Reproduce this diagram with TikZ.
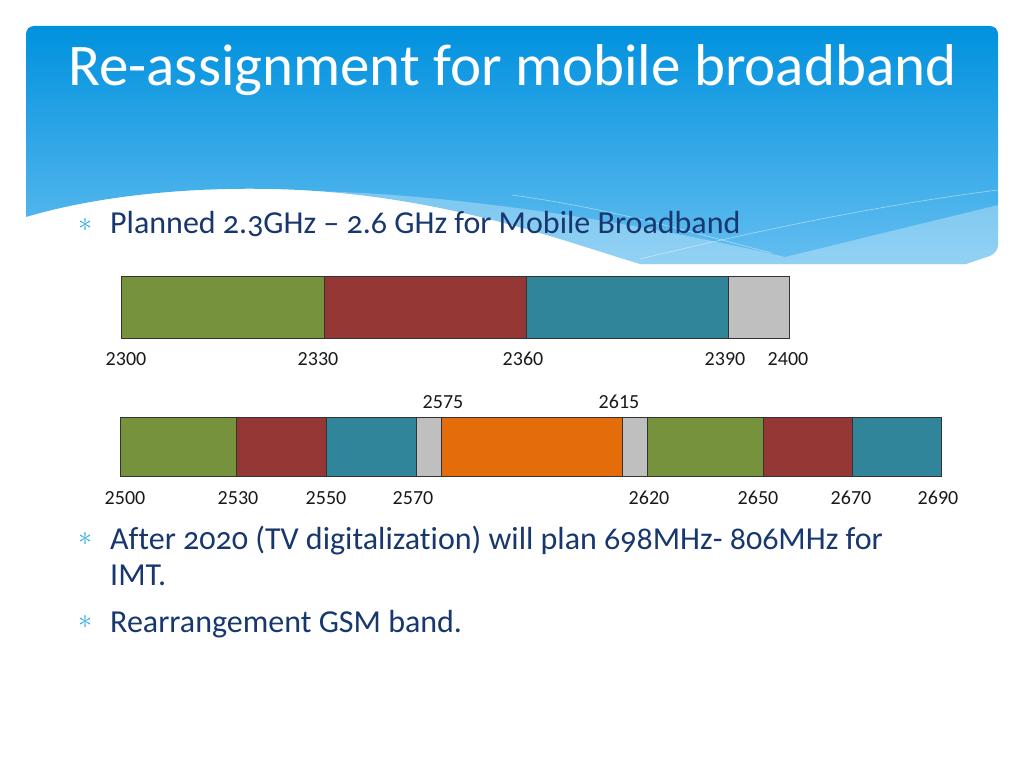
\documentclass[tikz,border=0pt]{standalone}
\usepackage{fontspec}
\setmainfont{Carlito}[Numbers=OldStyle, Ligatures=NoCommon]
\newfontfamily\labelfont{Carlito}
\usetikzlibrary{positioning}

\definecolor{headtop}{RGB}{0,145,222}
\definecolor{headbot}{RGB}{100,190,240}
\definecolor{bodyblue}{RGB}{23,55,110}
\definecolor{starblue}{RGB}{60,172,230}
\definecolor{bandgreen}{RGB}{118,146,60}
\definecolor{bandred}{RGB}{149,55,53}
\definecolor{bandteal}{RGB}{49,133,155}
\definecolor{bandgray}{RGB}{191,191,191}
\definecolor{bandorange}{RGB}{228,108,10}

\tikzset{
  band/.style={draw=black!80, line width=0.8pt},
  freq/.style={font=\labelfont\fontsize{20}{20}\selectfont, text=black!90, inner sep=0pt, anchor=base},
  bodytext/.style={font=\fontsize{32}{36}\selectfont, text=bodyblue, inner sep=0pt, anchor=base west},
  star/.style={text=starblue, inner sep=0pt}
}
\newcommand{\starmark}{\scalebox{2.8}{$\ast$}}

\begin{document}
\begin{tikzpicture}[x=1pt,y=-1pt]
  \useasboundingbox (0,0) rectangle (1024,768);

  % header with wave
  \shade[top color=headtop, bottom color=headbot]
    (26,217) {[rounded corners=8pt] -- (26,26) -- (998,26) -- (998,253)} -- (966,264) -- (640,264)
    .. controls (560,240) and (450,198) .. (300,190)
    .. controls (200,185) and (100,195) .. (26,217) -- cycle;
  \fill[white, opacity=0.3] (300,191) .. controls (450,192) and (650,225) .. (785,257)
    -- (998,205) -- (998,253) -- (966,264) -- (640,264) -- cycle;
  \draw[white, opacity=0.5, line width=0.6pt] (512,195) .. controls (620,210) and (700,235) .. (772,253);
  \draw[white, opacity=0.5, line width=0.6pt] (640,259) .. controls (760,230) and (880,205) .. (998,190);

  \node[font=\fontsize{59}{59}\selectfont, text=white, inner sep=0pt, anchor=base west]
    (title) at (68,85) {Re-assignment for mobile broadband};

  % bullets
  \node[star] (s1) at (85,225) {\starmark};
  \node[bodytext] (b1) at (110,233) {Planned 2.3GHz -- 2.6 GHz for Mobile Broadband};
  \node[star] (s2) at (85,539) {\starmark};
  \node[bodytext] (b2) at (110,549) {After 2020 (TV digitalization) will plan 698MHz- 806MHz for};
  \node[bodytext] (b2x) at (110,585) {IMT.};
  \node[star] (s3) at (85,622) {\starmark};
  \node[bodytext] (b3) at (110,632) {Rearrangement GSM band.};

  % 2.3 GHz band plan
  \foreach \a/\b/\col in {121/324/bandgreen, 324/526/bandred, 526/728/bandteal, 728/789/bandgray}{
    \draw[band, fill=\col] (\a,276) rectangle (\b,338);
  }
  \foreach \x/\f in {126/2300, 318/2330, 523/2360, 725/2390, 788/2400}{
    \node[freq] (f\f) at (\x,365) {\f};
  }

  % 2.6 GHz band plan
  \foreach \a/\b/\col in {120/236/bandgreen, 236/326/bandred, 326/416/bandteal, 416/441/bandgray,
      441/622/bandorange, 622/647/bandgray, 647/763/bandgreen, 763/852/bandred, 852/941/bandteal}{
    \draw[band, fill=\col] (\a,417) rectangle (\b,476);
  }
  \foreach \x/\f in {125/2500, 238/2530, 326/2550, 413/2570, 649/2620, 758/2650, 851/2670, 938/2690}{
    \node[freq] (f\f) at (\x,504) {\f};
  }
  \node[freq] (f2575) at (443,408) {2575};
  \node[freq] (f2615) at (619,408) {2615};
\end{tikzpicture}
\end{document}
